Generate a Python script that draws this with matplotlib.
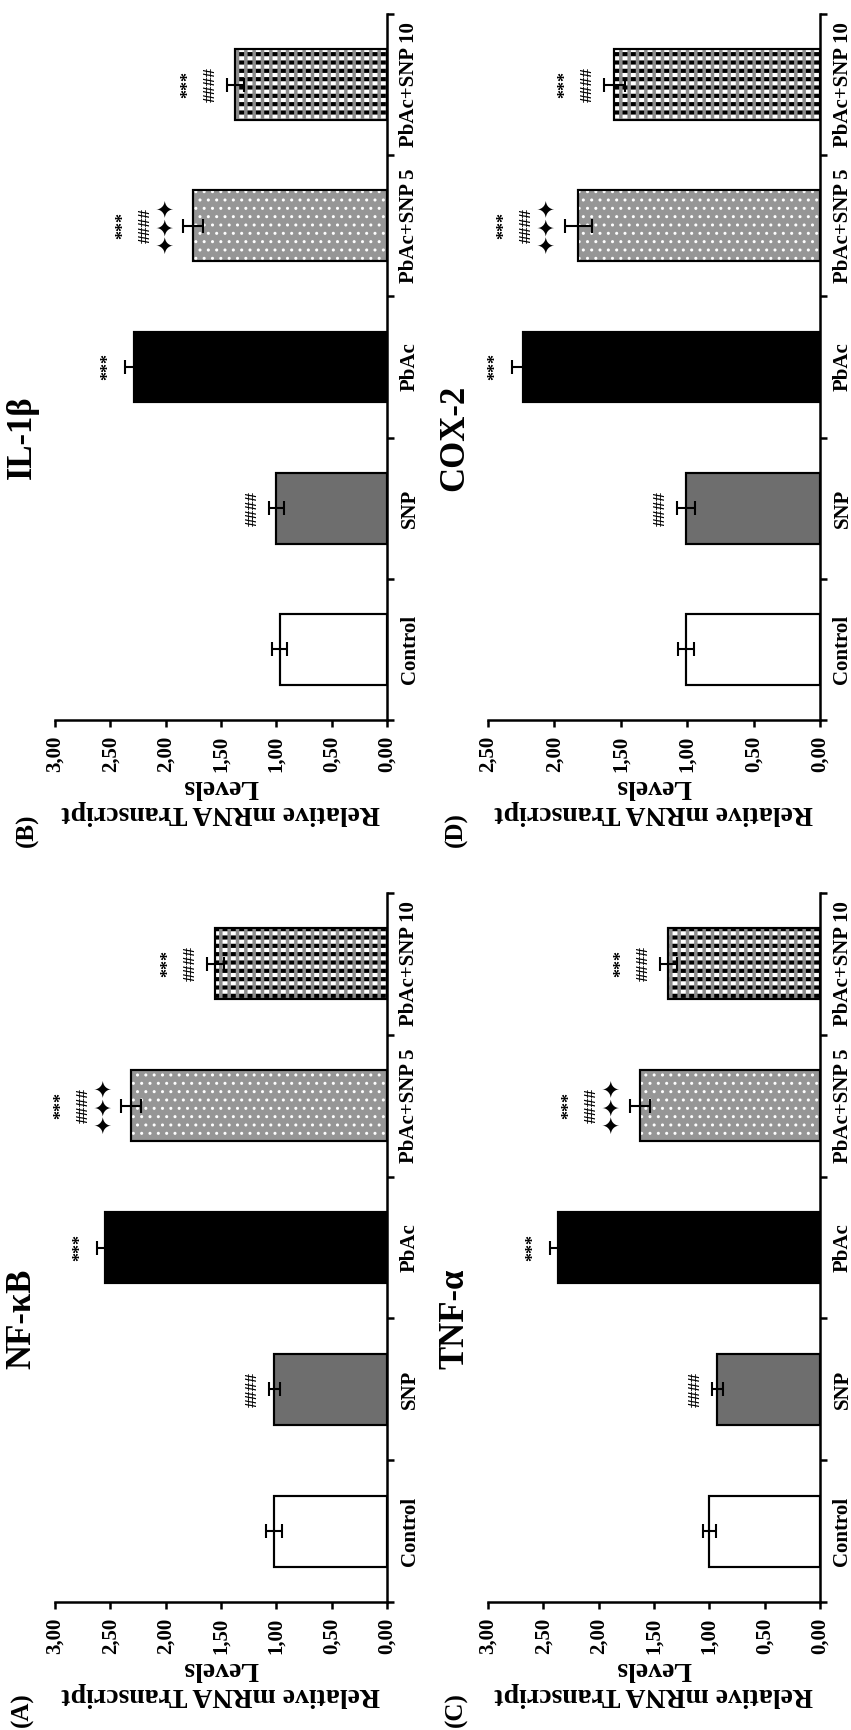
import numpy as np
import matplotlib
matplotlib.use("Agg")
import matplotlib.pyplot as plt
from matplotlib.ticker import MultipleLocator, FuncFormatter

plt.rcParams['font.family'] = ['Liberation Serif', 'DejaVu Sans']
plt.rcParams['font.weight'] = 'bold'
plt.rcParams['hatch.linewidth'] = 2.0

groups = ["Control", "SNP", "PbAc", "PbAc+SNP 5", "PbAc+SNP 10"]

nfkb_mean = [1.02, 1.02, 2.55, 2.31, 1.55]
nfkb_err = [0.07, 0.05, 0.07, 0.09, 0.08]
il1b_mean = [0.97, 1.00, 2.29, 1.75, 1.37]
il1b_err = [0.07, 0.07, 0.08, 0.09, 0.08]
tnfa_mean = [1.00, 0.93, 2.37, 1.63, 1.37]
tnfa_err = [0.06, 0.05, 0.07, 0.09, 0.08]
cox2_mean = [1.01, 1.01, 2.24, 1.82, 1.55]
cox2_err = [0.06, 0.07, 0.08, 0.10, 0.08]

# significance marks per group, nearest to the bar first
marks = [[], ["####"], ["***"], ["\u2726\u2726\u2726", "####", "***"], ["####", "***"]]

W, H = 851, 1730


def box(x0, y0, x1, y1):
    # pixel box (top-left origin) -> figure fraction rect
    return [x0 / W, 1 - y1 / H, (x1 - x0) / W, (y1 - y0) / H]


def comma(v, pos):
    return f"{v:.2f}".replace(".", ",")


def set_hatch_lw(bars, lw):
    for p in bars:
        try:
            p.set_hatch_linewidth(lw)
        except AttributeError:
            pass


def draw_panel(ax, title, means, errs, xmax):
    y = np.arange(len(groups))
    h = 0.5
    faces = ["white", "#6e6e6e", "black", "#969696", "white"]
    ax.barh(y, means, height=h, color=faces, edgecolor="black", linewidth=1.5, zorder=2)

    # textures for the two combined groups
    dots = ax.barh(y[3], means[3], height=h, color="none", edgecolor="white",
                   linewidth=0, hatch="..", zorder=3)
    set_hatch_lw(dots, 1.0)
    stripes = ax.barh(y[4], means[4], height=h, color="none", edgecolor="black",
                      linewidth=0, hatch="--", zorder=3)
    set_hatch_lw(stripes, 3.0)
    bands = ax.barh(y[4], means[4], height=h, color="none", edgecolor="#8c8c8c",
                    linewidth=0, hatch="||", zorder=4)
    set_hatch_lw(bands, 2.5)
    ax.barh(y, means, height=h, color="none", edgecolor="black", linewidth=1.5, zorder=5)

    ax.errorbar(means, y, xerr=errs, fmt="none", ecolor="black", elinewidth=1.5,
                capsize=5, capthick=1.5, zorder=6)

    for i, syms in enumerate(marks):
        for k, s in enumerate(syms):
            star = s.startswith("\u2726")
            fam = ['DejaVu Sans'] if star else ['Liberation Serif']
            fs = {"\u2726": 16, "#": 12.5, "*": 13}[s[0]]
            ax.annotate(s, xy=(means[i] + errs[i], y[i]),
                        xytext=(-(16 + 22 * k) * 0.72, 0), textcoords="offset points",
                        rotation=90, ha="center", va="center", fontsize=fs,
                        family=fam, fontweight="bold", zorder=7)

    ax.set_xlim(xmax, 0)
    ax.set_ylim(-0.5, len(groups) - 0.5)
    for s in ["top", "left"]:
        ax.spines[s].set_visible(False)
    for s in ["right", "bottom"]:
        ax.spines[s].set_linewidth(1.8)

    ax.xaxis.set_major_locator(MultipleLocator(0.5))
    ax.xaxis.set_major_formatter(FuncFormatter(comma))
    ax.tick_params(axis="x", direction="out", length=5, width=1.8,
                   labelsize=15, pad=6, labelrotation=90)

    ax.yaxis.tick_right()
    ax.set_yticks(np.arange(len(groups) + 1) - 0.5)
    ax.set_yticklabels([])
    ax.set_yticks(y, minor=True)
    ax.set_yticklabels(groups, minor=True, rotation=90, va="center")
    ax.tick_params(axis="y", which="major", direction="out", length=5, width=1.8,
                   right=True, left=False, labelright=False, labelleft=False)
    ax.tick_params(axis="y", which="minor", length=0, pad=9, labelsize=15,
                   right=True, left=False, labelright=True, labelleft=False)

    ax.set_xlabel("Relative mRNA Transcript\nLevels", rotation=180, fontsize=20,
                  labelpad=2, linespacing=1.05, fontweight="bold")
    ax.text(-0.099, 0.40, title, transform=ax.transAxes, rotation=90,
            ha="center", va="center", fontsize=25, fontweight="bold")


fig = plt.figure(figsize=(W / 100, H / 100), dpi=100)

panels = [
    ("IL-1\u03b2", il1b_mean, il1b_err, 3.0, (55, 14, 387, 720), "(B)", (27, 830)),
    ("COX-2", cox2_mean, cox2_err, 2.5, (488, 14, 820, 720), "(D)", (456, 830)),
    ("NF-\u03baB", nfkb_mean, nfkb_err, 3.0, (55, 893, 387, 1602), "(A)", (22, 1710)),
    ("TNF-\u03b1", tnfa_mean, tnfa_err, 3.0, (488, 893, 820, 1602), "(C)", (456, 1710)),
]

for title, m, e, xmax, b, letter, lp in panels:
    ax = fig.add_axes(box(*b))
    draw_panel(ax, title, m, e, xmax)
    fig.text(lp[0] / W, 1 - lp[1] / H, letter, rotation=90, ha="center", va="center",
             fontsize=18, fontweight="bold")

fig.savefig("out.png", dpi=100)
